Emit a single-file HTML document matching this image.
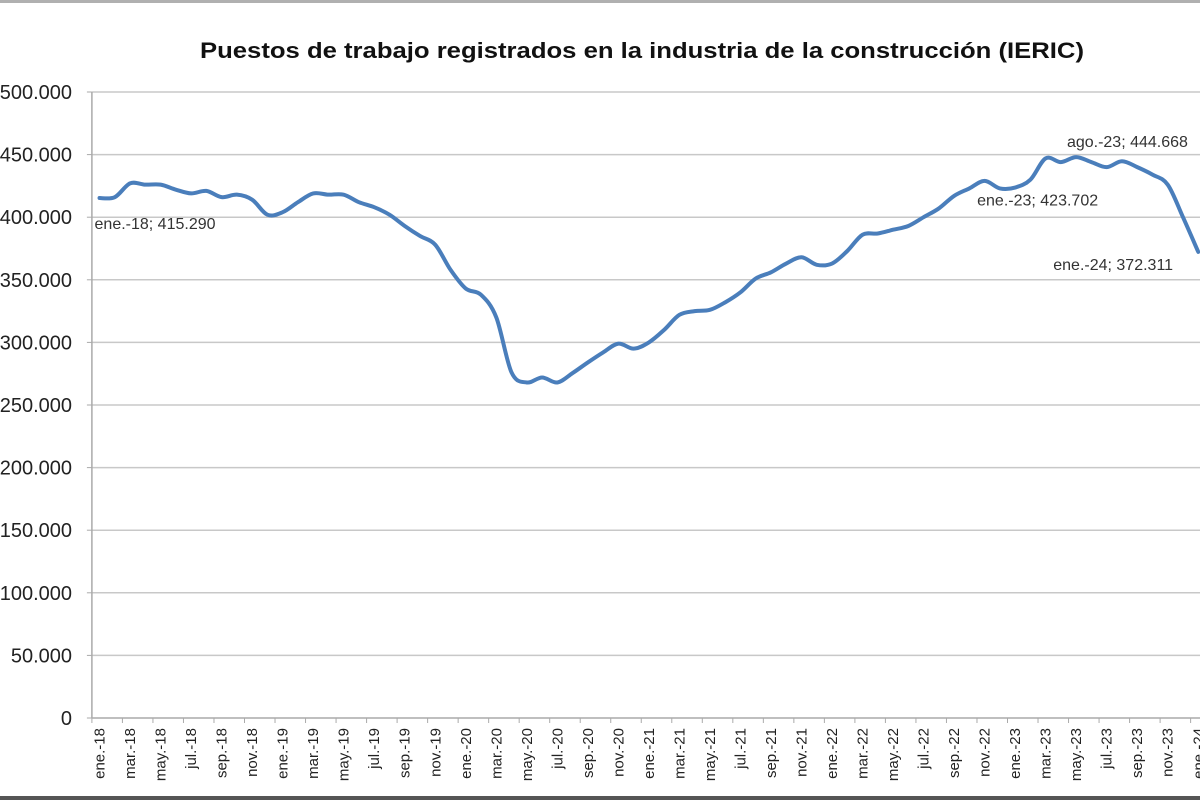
<!DOCTYPE html>
<html><head><meta charset="utf-8"><style>
html,body{margin:0;padding:0;background:#fff;}
svg{display:block;font-family:"Liberation Sans",Arial,sans-serif;}
</style></head><body>
<svg id="chart" width="1200" height="800" viewBox="0 0 1200 800" xmlns="http://www.w3.org/2000/svg">
<rect x="0" y="0" width="1200" height="800" fill="#fff"/>
<rect x="0" y="0" width="1200" height="3" fill="#b0b0b0"/>
<rect x="0" y="796" width="1200" height="4" fill="#555"/>
<text x="642" y="58" text-anchor="middle" font-size="22" font-weight="bold" fill="#111" textLength="884" lengthAdjust="spacingAndGlyphs">Puestos de trabajo registrados en la industria de la construcción (IERIC)</text>
<g id="grid"></g><g id="yaxis"></g><g id="xaxis"></g><g id="series"></g><g id="labels"></g>
</svg>
<script>
const categories = ["ene","feb","mar","abr","may","jun","jul","ago","sep","oct","nov","dic"];
const startYear = 18;
const values = [415.3,416,427,426,426,422,419,421,416,418,414,402,
404,412,419,418,418,412,408,402,393,385,378,358,
343,338,320,276,268,272,268,275.5,284,292,299,295,
300,310,322,325,326,332,340,351,356,363,368,362,
363,373,386,387,390,393,400,407,417,423,429,423,
423.7,430,447,444,448,444,440,444.7,440,434,426,400,
372.3];
const yTicks = [0,50,100,150,200,250,300,350,400,450,500];
const yTickLabels = ["0","50.000","100.000","150.000","200.000","250.000","300.000","350.000","400.000","450.000","500.000"];
const annotIdx = [0,60,67,72];
const annotText = ["ene.-18; 415.290","ene.-23; 423.702","ago.-23; 444.668","ene.-24; 372.311"];
const annotDx = [-5,-38,-55,-145];
const annotDy = [31,18,-14,18];

const NS="http://www.w3.org/2000/svg";
const X0=91.9, BW=15.26, Y0=718, Y1=92, VMAX=500;
const xs=i=>X0+BW*(i+0.5);
const ys=v=>Y0-(v/VMAX)*(Y0-Y1);
function mk(tag,attrs,parent){const e=document.createElementNS(NS,tag);for(const k in attrs)e.setAttribute(k,attrs[k]);parent.appendChild(e);return e;}
const grid=document.getElementById('grid'),yax=document.getElementById('yaxis'),xax=document.getElementById('xaxis'),ser=document.getElementById('series'),lab=document.getElementById('labels');
yTicks.forEach((t,k)=>{
  const y=ys(t);
  if(t>0){const g=mk('line',{x1:X0,x2:1200,y1:y,y2:y,stroke:'#c8c8c8','stroke-width':1.5},grid);
  
  }
  const tk=mk('line',{x1:X0-5,x2:X0,y1:y,y2:y,stroke:'#aaa'},yax);
  
  
  const tx=mk('text',{x:72,y:y+7,'text-anchor':'end','font-size':20,fill:'#222'},yax);
  tx.textContent=yTickLabels[k];
  
  
});
const ya=mk('line',{x1:X0,x2:X0,y1:Y1,y2:Y0,stroke:'#aaa','stroke-width':1.5},yax);


const xa=mk('line',{x1:X0,x2:1200,y1:Y0,y2:Y0,stroke:'#aaa','stroke-width':1.5},xax);


for(let i=0;i<values.length+2;i+=2){
  const x=X0+BW*i;
  const t=mk('line',{x1:x,x2:x,y1:Y0,y2:Y0+5,stroke:'#aaa'},xax);
  
  
}
for(let i=0;i<values.length;i+=2){
  const lbl=categories[i%12]+".-"+(startYear+Math.floor(i/12));
  const x=xs(i)+5, y=728;
  const t=mk('text',{x:x,y:y,'text-anchor':'end','font-size':15,fill:'#222',transform:`rotate(-90 ${x} ${y})`},xax);
  t.textContent=lbl;
  
  
}
const pts=values.map((v,i)=>[xs(i),ys(v)]);
let d=`M${pts[0][0]},${pts[0][1]}`;
for(let i=0;i<pts.length-1;i++){
  const p0=pts[Math.max(0,i-1)],p1=pts[i],p2=pts[i+1],p3=pts[Math.min(pts.length-1,i+2)];
  const c1=[p1[0]+(p2[0]-p0[0])/6,p1[1]+(p2[1]-p0[1])/6];
  const c2=[p2[0]-(p3[0]-p1[0])/6,p2[1]-(p3[1]-p1[1])/6];
  d+=` C${c1[0]},${c1[1]} ${c2[0]},${c2[1]} ${p2[0]},${p2[1]}`;
}
const line=mk('path',{d:d,fill:'none',stroke:'#4a7ebb','stroke-width':4,'stroke-linejoin':'round','stroke-linecap':'round'},ser);


annotIdx.forEach((idx,k)=>{
  const t=mk('text',{x:xs(idx)+annotDx[k],y:ys(values[idx])+annotDy[k],'font-size':16,fill:'#333'},lab);
  t.textContent=annotText[k];
  
  
});
</script>
</body></html>
